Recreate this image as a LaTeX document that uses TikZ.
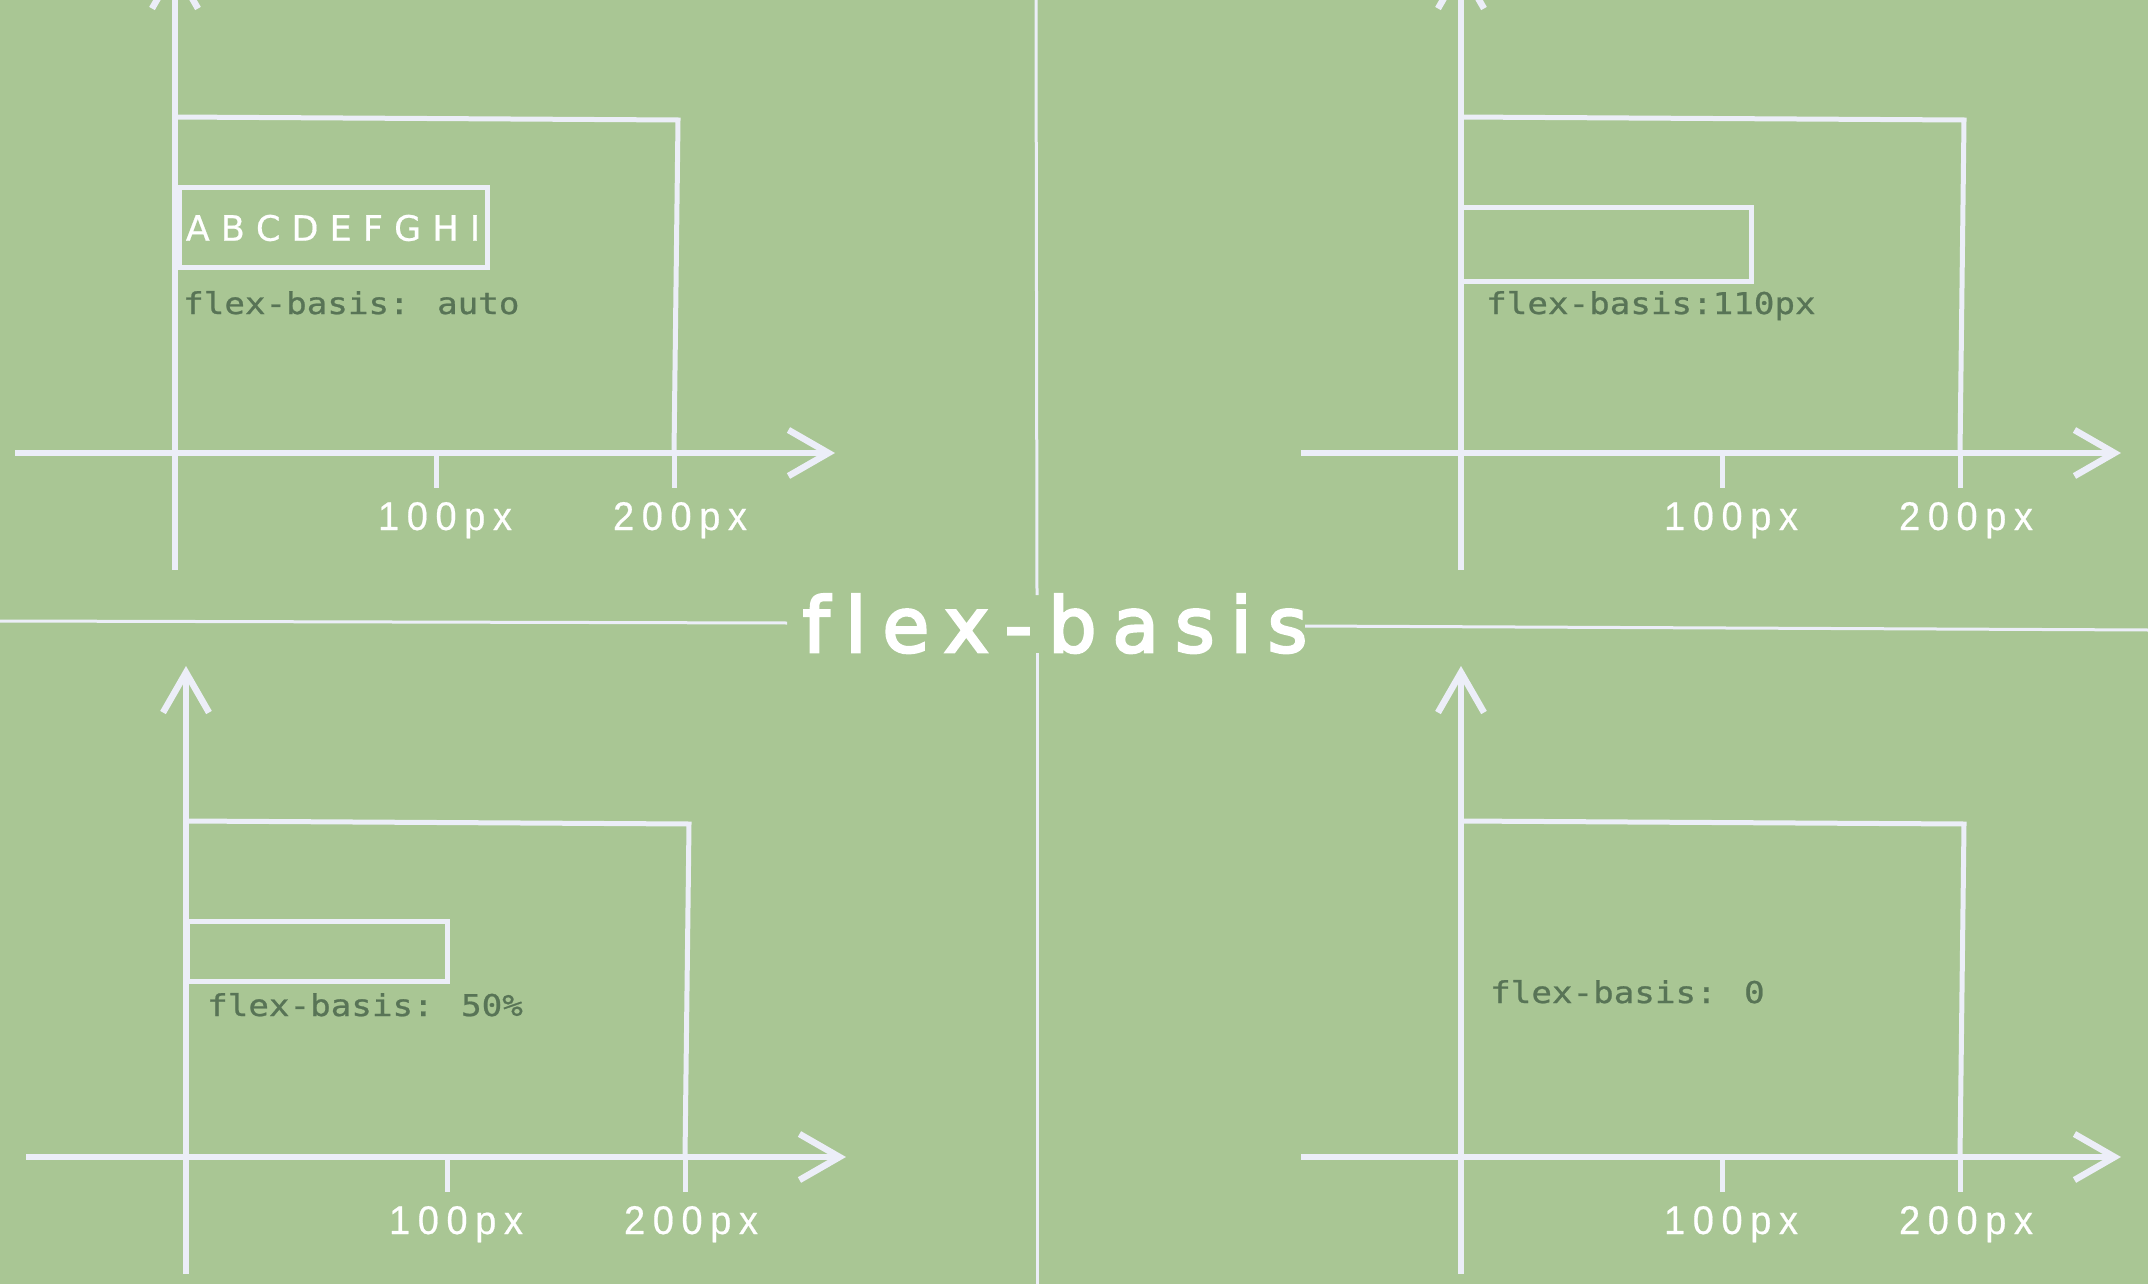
\documentclass[tikz,border=0pt]{standalone}
\usepackage{fontspec}
\setmainfont{DejaVu Sans}
\newfontfamily\titlefont[LetterSpace=21,Ligatures=NoCommon,FakeBold=3.5]{DejaVu Sans}
\newfontfamily\labelfont[FakeStretch=1.14,FakeBold=0.8]{DejaVu Sans Mono}
\newfontfamily\tickfont[FakeStretch=0.95,LetterSpace=19,FakeBold=0.5]{Liberation Sans}
\newfontfamily\itemfont[FakeBold=0.5]{DejaVu Sans}
\usetikzlibrary{arrows.meta}
\definecolor{bggreen}{RGB}{169,198,148}
\definecolor{chalk}{RGB}{236,238,248}
\definecolor{ink}{RGB}{88,116,86}

\begin{document}
\begin{tikzpicture}[x=1pt,y=-1pt,
  axis/.style={chalk,line width=6.5pt,-{Straight Barb[length=40pt,width=46pt]}},
  frame/.style={chalk,line width=5pt,line join=miter},
  tick/.style={chalk,line width=5pt},
  divider/.style={chalk,line width=3pt},
  itembox/.style={draw=chalk,line width=5pt,inner sep=0pt},
  ticklbl/.style={white,inner sep=0pt,anchor=base,font=\tickfont\fontsize{40}{40}\selectfont},
  basis/.style={ink,inner sep=0pt,anchor=base west,font=\labelfont\fontsize{30}{30}\selectfont}]
\fill[bggreen] (0,0) rectangle (2148,1284);
\clip (0,0) rectangle (2148,1284);

% four axis panels
\foreach \p/\ox/\oy in {a/175/453, b/1461/453, c/186/1157, d/1461/1157}{
  \begin{scope}[shift={(\ox,\oy)}]
    \draw[axis] (-160,0) -- (660,0);
    \draw[axis] (0,117) -- (0,-491);
    \draw[frame] (0,-336) -- (503,-333) -- (499,0);
    \draw[tick] (261,0) -- (261,35);
    \draw[tick] (499,0) -- (499,35);
    \node[ticklbl] (hund\p) at (270,77) {100px};
    \node[ticklbl] (twoh\p) at (505,77) {200px};
  \end{scope}
}

% items
\node[itembox,minimum width=308pt,minimum height=80pt,
  font=\itemfont\fontsize{35}{35}\selectfont] (itema) at (333,228) {\color{white}A B C D E F G H I};
\node[itembox,minimum width=291pt,minimum height=74pt] (itemb) at (1606,245) {};
\node[itembox,minimum width=260pt,minimum height=60pt] (itemc) at (317,951) {};

\node[basis] (basisa) at (183,314) {flex-basis: auto};
\node[basis] (basisb) at (1486,314) {flex-basis:110px};
\node[basis] (basisc) at (207,1016) {flex-basis: 50\%};
\node[basis] (basisd) at (1490,1003) {flex-basis: 0};

% centre cross and title
\draw[divider] (1036,0) -- (1037,595);
\draw[divider] (1037,653) -- (1037,1284);
\draw[divider] (0,621) -- (787,623);
\draw[divider] (1305,626) -- (2148,630);
\node[white,inner sep=0pt,anchor=base,font=\titlefont\fontsize{76}{76}\selectfont] (title) at (1055,652) {flex-basis};
\end{tikzpicture}
\end{document}
